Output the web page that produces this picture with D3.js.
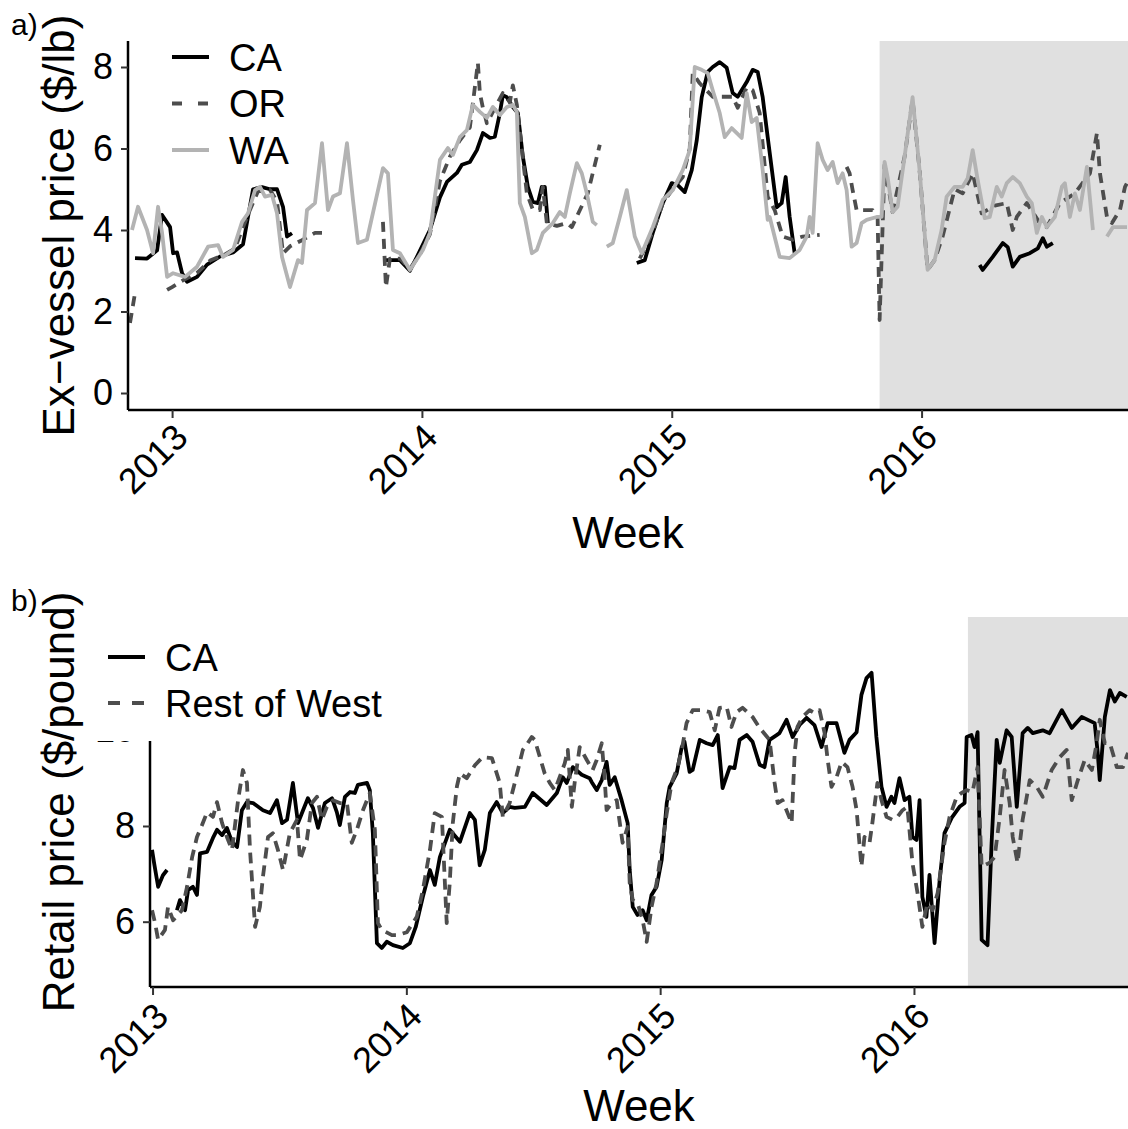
<!DOCTYPE html>
<html>
<head>
<meta charset="utf-8">
<script src="https://cdn.jsdelivr.net/npm/d3@7"></script>
<style>
body { margin: 0; background: #fff; }
svg { display: block; font-family: "Liberation Sans", Arial, sans-serif; }
</style>
</head>
<body>
<svg id="chart"></svg>
<script>
// [decimal year, price]; null marks a gap in the series

// a) ex-vessel price, $/lb
let exCA = [
  [2012.852,3.31],[2012.900,3.30],[2012.940,3.50],[2012.960,4.37],[2012.992,4.07],[2013.004,3.43],
  [2013.020,3.45],[2013.040,2.94],[2013.060,2.73],[2013.100,2.85],[2013.140,3.15],[2013.192,3.35],
  [2013.244,3.45],[2013.284,3.65],[2013.324,5.00],[2013.360,5.05],[2013.392,5.00],[2013.420,5.00],
  [2013.444,4.57],[2013.460,3.84],[2013.480,3.92],[2013.60,null],
  [2013.852,3.26],[2013.912,3.26],[2013.952,3.00],[2013.980,3.34],[2014.032,4.00],[2014.072,4.80],
  [2014.100,5.18],[2014.140,5.40],[2014.160,5.60],[2014.192,5.67],[2014.220,5.96],[2014.244,6.38],
  [2014.272,6.26],[2014.292,6.29],[2014.312,6.87],[2014.324,7.31],[2014.340,7.26],[2014.364,7.02],
  [2014.384,6.87],[2014.404,5.80],[2014.424,5.06],[2014.444,4.69],[2014.464,4.66],[2014.480,5.06],
  [2014.492,5.06],[2014.504,4.17],[2014.60,null],
  [2014.860,3.19],[2014.892,3.26],[2014.924,3.93],[2014.964,4.66],[2015.000,5.15],[2015.024,5.10],
  [2015.052,4.93],[2015.080,5.47],[2015.100,6.20],[2015.120,7.26],[2015.144,7.88],[2015.164,8.00],
  [2015.192,8.12],[2015.220,7.98],[2015.244,7.36],[2015.264,7.27],[2015.300,7.63],[2015.324,7.93],
  [2015.344,7.88],[2015.364,7.26],[2015.384,6.28],[2015.420,4.56],[2015.440,4.66],[2015.456,5.30],
  [2015.472,4.32],[2015.492,3.43],[2015.60,null],
  [2016.232,3.14],[2016.244,3.02],[2016.284,3.34],[2016.324,3.68],[2016.344,3.58],[2016.364,3.10],
  [2016.392,3.34],[2016.432,3.43],[2016.464,3.55],[2016.484,3.80],[2016.500,3.59],[2016.524,3.68]
]

let exOR = [
  [2012.832,1.72],[2012.852,2.45],[2012.90,null],
  [2012.980,2.53],[2013.000,2.60],[2013.040,2.75],[2013.100,2.95],[2013.152,3.25],[2013.212,3.40],
  [2013.252,3.55],[2013.284,4.07],[2013.312,4.50],[2013.344,4.95],[2013.392,4.98],[2013.420,4.70],
  [2013.444,3.43],[2013.472,3.60],[2013.520,3.75],[2013.572,3.93],[2013.600,3.93],[2013.70,null],
  [2013.844,4.20],[2013.856,2.60],[2013.872,3.30],[2013.912,3.30],[2013.952,3.05],[2013.992,3.40],
  [2014.032,3.90],[2014.072,5.20],[2014.112,5.80],[2014.152,6.20],[2014.192,6.52],[2014.224,8.10],
  [2014.232,7.36],[2014.244,7.00],[2014.260,6.62],[2014.284,6.90],[2014.324,7.36],[2014.352,7.14],
  [2014.364,7.55],[2014.380,7.07],[2014.420,4.90],[2014.444,4.50],[2014.472,4.49],[2014.484,5.06],
  [2014.500,4.17],[2014.540,4.10],[2014.580,4.17],[2014.600,4.07],[2014.664,4.90],[2014.688,5.50],
  [2014.712,6.09],[2014.80,null],
  [2014.872,3.30],[2014.924,3.95],[2014.964,4.66],[2015.004,5.00],[2015.044,5.30],[2015.072,6.00],
  [2015.084,7.85],[2015.112,7.60],[2015.164,7.27],[2015.204,7.27],[2015.244,7.27],[2015.264,7.00],
  [2015.300,7.50],[2015.324,7.43],[2015.352,6.87],[2015.384,4.82],[2015.412,4.49],[2015.444,3.84],
  [2015.484,3.76],[2015.524,3.84],[2015.592,3.88],[2015.65,null],
  [2015.700,5.55],[2015.712,5.39],[2015.724,4.98],[2015.740,4.49],[2015.764,4.49],[2015.804,4.49],
  [2015.824,4.32],[2015.832,1.79],[2015.852,5.60],[2015.884,4.44],[2015.932,5.80],[2015.964,7.20],
  [2015.992,5.47],[2016.024,3.02],[2016.052,3.26],[2016.084,3.84],[2016.132,5.00],[2016.164,4.90],
  [2016.204,5.39],[2016.240,4.41],[2016.292,4.60],[2016.340,4.66],[2016.364,4.00],[2016.380,4.32],
  [2016.420,4.66],[2016.472,4.17],[2016.500,4.07],[2016.552,4.66],[2016.612,4.90],[2016.672,5.39],
  [2016.700,6.38],[2016.712,5.39],[2016.740,4.32],[2016.760,4.17],[2016.792,4.49],[2016.812,5.06],
  [2016.824,5.20]
]

let exWA = [
  [2012.840,4.00],[2012.864,4.57],[2012.900,4.00],[2012.924,3.43],[2012.944,4.57],[2012.960,3.93],
  [2012.980,2.85],[2013.004,2.94],[2013.052,2.85],[2013.100,3.10],[2013.144,3.59],[2013.184,3.63],
  [2013.204,3.34],[2013.244,3.51],[2013.280,4.20],[2013.304,4.41],[2013.332,4.98],[2013.352,5.06],
  [2013.372,4.82],[2013.400,4.86],[2013.420,4.41],[2013.440,3.34],[2013.472,2.60],[2013.504,3.26],
  [2013.520,3.19],[2013.540,4.49],[2013.572,4.66],[2013.600,6.13],[2013.624,4.49],[2013.644,4.82],
  [2013.672,4.90],[2013.700,6.13],[2013.724,4.74],[2013.744,3.68],[2013.780,3.76],[2013.844,5.52],
  [2013.864,5.39],[2013.884,3.51],[2013.912,3.43],[2013.952,3.02],[2014.004,3.51],[2014.032,3.93],
  [2014.072,5.72],[2014.104,6.01],[2014.124,5.84],[2014.152,6.28],[2014.180,6.45],[2014.204,7.07],
  [2014.232,6.90],[2014.260,6.75],[2014.284,7.02],[2014.312,6.82],[2014.340,7.02],[2014.364,7.07],
  [2014.380,6.90],[2014.392,4.66],[2014.412,4.32],[2014.440,3.43],[2014.460,3.51],[2014.484,3.93],
  [2014.524,4.17],[2014.552,4.44],[2014.572,4.32],[2014.592,4.90],[2014.620,5.64],[2014.640,5.39],
  [2014.660,4.90],[2014.684,4.20],[2014.700,4.12],[2014.72,null],
  [2014.740,3.59],[2014.764,3.68],[2014.792,4.32],[2014.820,4.98],[2014.852,3.84],[2014.880,3.43],
  [2014.924,4.07],[2014.964,4.74],[2015.004,4.98],[2015.044,5.47],[2015.072,5.96],[2015.092,8.00],
  [2015.120,7.93],[2015.144,7.85],[2015.164,7.43],[2015.192,6.87],[2015.212,6.28],[2015.240,6.50],
  [2015.280,6.26],[2015.300,7.36],[2015.320,6.65],[2015.340,6.75],[2015.364,5.47],[2015.384,4.25],
  [2015.392,4.32],[2015.432,3.34],[2015.472,3.31],[2015.512,3.51],[2015.540,3.84],[2015.552,4.32],
  [2015.564,3.93],[2015.584,6.13],[2015.604,5.72],[2015.624,5.47],[2015.644,5.67],[2015.664,5.15],
  [2015.684,5.39],[2015.700,4.98],[2015.720,3.59],[2015.740,3.68],[2015.760,4.17],[2015.780,4.25],
  [2015.820,4.32],[2015.840,4.32],[2015.852,5.67],[2015.864,5.30],[2015.884,4.44],[2015.904,4.57],
  [2015.932,5.80],[2015.964,7.26],[2015.992,5.47],[2016.024,3.02],[2016.052,3.26],[2016.080,4.00],
  [2016.100,4.82],[2016.132,5.06],[2016.164,5.06],[2016.184,5.27],[2016.204,5.96],[2016.224,5.23],
  [2016.252,4.29],[2016.272,4.32],[2016.300,5.06],[2016.320,4.82],[2016.340,5.15],[2016.364,5.30],
  [2016.392,5.15],[2016.420,4.82],[2016.440,4.66],[2016.460,3.93],[2016.480,4.32],[2016.500,4.07],
  [2016.532,4.32],[2016.560,5.06],[2016.572,5.15],[2016.592,4.32],[2016.612,4.90],[2016.632,4.49],
  [2016.660,5.55],[2016.684,4.00],[2016.71,null],
  [2016.740,3.84],[2016.764,4.07],[2016.820,4.07]
]

// b) retail price, $/pound
let retCA = [
  [2012.998,7.50],[2013.006,7.23],[2013.022,6.73],[2013.041,6.97],[2013.057,7.08],[2013.07,null],
  [2013.096,6.24],[2013.108,6.45],[2013.128,6.24],[2013.140,6.66],[2013.159,6.73],[2013.175,6.56],
  [2013.187,7.43],[2013.215,7.46],[2013.238,7.75],[2013.254,7.92],[2013.274,7.81],[2013.293,7.96],
  [2013.313,7.67],[2013.333,7.56],[2013.352,8.33],[2013.372,8.50],[2013.396,8.48],[2013.435,8.33],
  [2013.463,8.27],[2013.490,8.54],[2013.510,8.06],[2013.530,8.13],[2013.553,8.90],[2013.573,8.06],
  [2013.593,8.33],[2013.612,8.58],[2013.632,8.38],[2013.652,7.96],[2013.679,8.48],[2013.707,8.58],
  [2013.726,8.29],[2013.738,8.02],[2013.758,8.61],[2013.778,8.71],[2013.797,8.69],[2013.809,8.86],
  [2013.845,8.90],[2013.856,8.75],[2013.868,7.85],[2013.884,5.55],[2013.903,5.45],[2013.923,5.58],
  [2013.947,5.51],[2013.986,5.45],[2014.014,5.55],[2014.037,5.89],[2014.065,6.52],[2014.093,7.08],
  [2014.112,6.77],[2014.132,7.35],[2014.171,7.92],[2014.211,7.67],[2014.250,8.27],[2014.270,8.13],
  [2014.289,7.18],[2014.309,7.50],[2014.329,8.27],[2014.356,8.50],[2014.380,8.27],[2014.407,8.40],
  [2014.427,8.38],[2014.467,8.40],[2014.498,8.69],[2014.553,8.44],[2014.593,8.69],[2014.616,9.02],
  [2014.632,8.90],[2014.656,9.23],[2014.691,9.07],[2014.722,9.00],[2014.730,8.92],[2014.750,8.75],
  [2014.770,8.96],[2014.789,9.34],[2014.801,8.86],[2014.821,9.02],[2014.848,8.54],[2014.872,8.06],
  [2014.880,7.08],[2014.892,6.31],[2014.911,6.14],[2014.931,6.24],[2014.947,6.03],[2014.966,6.56],
  [2014.986,6.73],[2015.006,7.29],[2015.026,8.48],[2015.037,8.81],[2015.065,9.10],[2015.085,9.65],
  [2015.096,9.76],[2015.116,9.13],[2015.128,9.17],[2015.156,9.80],[2015.183,9.73],[2015.207,9.69],
  [2015.227,9.90],[2015.246,8.79],[2015.274,9.23],[2015.293,9.21],[2015.313,9.80],[2015.341,9.90],
  [2015.364,9.76],[2015.392,9.28],[2015.411,9.23],[2015.431,9.80],[2015.459,9.90],[2015.470,9.94],
  [2015.498,10.22],[2015.522,9.86],[2015.549,10.11],[2015.577,10.26],[2015.608,10.11],[2015.636,9.65],
  [2015.660,10.15],[2015.695,10.15],[2015.726,9.53],[2015.746,9.80],[2015.774,9.96],[2015.793,10.74],
  [2015.813,11.09],[2015.833,11.20],[2015.852,9.86],[2015.872,8.82],[2015.892,8.40],[2015.911,8.61],
  [2015.923,8.48],[2015.943,9.00],[2015.963,8.54],[2015.982,8.61],[2015.994,7.77],[2016.010,7.71],
  [2016.022,8.54],[2016.033,6.52],[2016.049,6.10],[2016.061,6.98],[2016.081,5.55],[2016.100,6.81],
  [2016.120,7.85],[2016.148,8.17],[2016.179,8.40],[2016.199,8.48],[2016.207,9.86],[2016.226,9.90],
  [2016.238,9.65],[2016.250,9.96],[2016.266,5.62],[2016.289,5.51],[2016.305,7.64],[2016.325,9.80],
  [2016.337,9.32],[2016.364,10.00],[2016.384,9.86],[2016.404,8.40],[2016.427,9.94],[2016.447,10.05],
  [2016.467,9.94],[2016.506,10.00],[2016.533,9.94],[2016.581,10.42],[2016.620,10.05],[2016.659,10.28],
  [2016.710,10.15],[2016.722,9.53],[2016.730,8.96],[2016.750,10.28],[2016.770,10.84],[2016.789,10.60],
  [2016.809,10.78],[2016.836,10.70]
]

let retRoW = [
  [2012.998,6.24],[2013.010,5.97],[2013.022,5.62],[2013.049,5.83],[2013.061,6.31],[2013.081,6.03],
  [2013.116,6.24],[2013.136,6.73],[2013.156,7.35],[2013.175,7.77],[2013.195,8.02],[2013.215,8.29],
  [2013.238,8.19],[2013.254,8.50],[2013.274,8.06],[2013.293,7.77],[2013.313,7.50],[2013.337,8.54],
  [2013.356,9.17],[2013.372,8.90],[2013.384,7.50],[2013.404,5.89],[2013.423,6.31],[2013.435,6.94],
  [2013.455,7.77],[2013.474,7.85],[2013.494,7.50],[2013.514,7.08],[2013.541,7.85],[2013.569,8.13],
  [2013.581,7.29],[2013.608,7.71],[2013.628,8.48],[2013.648,8.61],[2013.667,8.13],[2013.687,8.40],
  [2013.711,8.54],[2013.738,8.48],[2013.766,8.48],[2013.785,7.65],[2013.805,7.92],[2013.829,8.33],
  [2013.856,8.69],[2013.876,7.92],[2013.888,5.97],[2013.903,5.83],[2013.943,5.72],[2013.966,5.72],
  [2014.002,5.78],[2014.041,6.10],[2014.065,6.66],[2014.093,7.50],[2014.112,8.27],[2014.140,8.19],
  [2014.159,5.97],[2014.171,6.81],[2014.183,8.06],[2014.199,8.82],[2014.211,9.10],[2014.238,9.00],
  [2014.270,9.27],[2014.301,9.44],[2014.337,9.42],[2014.368,8.90],[2014.380,8.19],[2014.407,8.48],
  [2014.427,8.90],[2014.459,9.59],[2014.478,9.73],[2014.494,9.86],[2014.506,9.80],[2014.526,9.44],
  [2014.545,9.10],[2014.565,8.90],[2014.585,8.75],[2014.604,9.02],[2014.624,9.31],[2014.636,9.59],
  [2014.652,8.40],[2014.663,8.90],[2014.683,9.65],[2014.711,9.38],[2014.734,9.17],[2014.750,9.38],
  [2014.770,9.73],[2014.781,9.02],[2014.789,8.33],[2014.809,8.48],[2014.829,8.54],[2014.841,8.06],
  [2014.852,7.65],[2014.872,7.98],[2014.880,6.81],[2014.892,6.45],[2014.911,6.39],[2014.931,6.03],
  [2014.947,5.58],[2014.966,6.31],[2014.986,6.81],[2015.010,7.65],[2015.026,8.27],[2015.045,8.90],
  [2015.069,9.23],[2015.085,9.59],[2015.104,10.15],[2015.128,10.42],[2015.163,10.42],[2015.195,10.38],
  [2015.215,10.00],[2015.234,10.47],[2015.262,10.49],[2015.281,10.07],[2015.301,10.38],[2015.325,10.47],
  [2015.364,10.28],[2015.392,10.05],[2015.431,9.80],[2015.451,8.90],[2015.463,8.48],[2015.482,8.54],
  [2015.518,8.06],[2015.530,9.53],[2015.541,10.07],[2015.561,10.28],[2015.589,10.42],[2015.608,10.36],
  [2015.628,10.42],[2015.648,9.94],[2015.660,9.38],[2015.675,8.82],[2015.695,9.02],[2015.715,9.34],
  [2015.738,9.23],[2015.758,8.82],[2015.774,8.33],[2015.785,7.65],[2015.793,7.15],[2015.805,7.77],
  [2015.825,7.65],[2015.836,8.06],[2015.856,8.90],[2015.872,8.54],[2015.892,8.19],[2015.915,8.13],
  [2015.935,8.19],[2015.955,8.33],[2015.974,8.40],[2015.994,7.23],[2016.014,6.60],[2016.033,5.89],
  [2016.053,6.39],[2016.073,6.24],[2016.093,6.60],[2016.120,7.65],[2016.140,8.19],[2016.168,8.61],
  [2016.187,8.69],[2016.207,8.75],[2016.230,8.71],[2016.250,9.23],[2016.266,7.15],[2016.297,7.23],
  [2016.317,7.35],[2016.337,8.19],[2016.356,9.17],[2016.376,8.48],[2016.388,7.77],[2016.407,7.23],
  [2016.427,8.13],[2016.455,8.96],[2016.482,8.82],[2016.506,8.61],[2016.541,9.17],[2016.573,9.44],
  [2016.600,9.59],[2016.620,8.54],[2016.644,8.96],[2016.671,9.38],[2016.699,9.17],[2016.718,9.73],
  [2016.730,10.22],[2016.750,9.73],[2016.770,9.73],[2016.797,9.23],[2016.821,9.23],[2016.841,9.53]
]

let exTicks = [0, 2, 4, 6, 8]
let retTicks = [6, 8, 10]
let yearTicks = [2013, 2014, 2015, 2016]
let exLegend = ['CA', 'OR', 'WA']
let retLegend = ['CA', 'Rest of West']

let width = 1128
let height = 1129
let font = '"Liberation Sans", Arial, sans-serif'

let svg = d3.select('#chart').attr('width', width).attr('height', height)

let toDate = (yr) => {
  let y = Math.floor(yr)
  let start = Date.UTC(y, 0, 1)
  let end = Date.UTC(y + 1, 0, 1)
  return new Date(start + (yr - y) * (end - start))
}

let drawPanel = (p) => {
  let xScale = d3.scaleUtc()
    .domain([toDate(p.xDomain[0]), toDate(p.xDomain[1])])
    .range([p.left, p.right])
  let yScale = d3.scaleLinear()
    .domain(p.yDomain)
    .range([p.bottom, p.top])

  let g = svg.append('g')

  svg.append('clipPath').attr('id', p.id + '-clip')
    .append('rect')
    .attr('x', p.left).attr('y', p.top)
    .attr('width', p.right - p.left).attr('height', p.bottom - p.top)

  // projection period
  g.append('rect')
    .attr('x', xScale(toDate(p.shadeFrom)))
    .attr('y', p.top)
    .attr('width', p.right - xScale(toDate(p.shadeFrom)))
    .attr('height', p.bottom - p.top)
    .attr('fill', '#e0e0e0')

  let line = d3.line()
    .defined((d) => d[1] != null)
    .x((d) => xScale(toDate(d[0])))
    .y((d) => yScale(d[1]))

  let lines = g.append('g').attr('clip-path', 'url(#' + p.id + '-clip)')
  p.series.forEach((s) => {
    lines.append('path')
      .attr('d', line(s.data))
      .attr('fill', 'none')
      .attr('stroke', s.color)
      .attr('stroke-width', 3.8)
      .attr('stroke-linejoin', 'round')
      .attr('stroke-dasharray', s.dash || null)
  })

  // axes
  let xAxis = d3.axisBottom(xScale)
    .tickValues(yearTicks.map((y) => toDate(y)))
    .tickFormat(d3.utcFormat('%Y'))
    .tickSize(8)
    .tickPadding(0)
  let yAxis = d3.axisLeft(yScale)
    .tickValues(p.yTicks)
    .tickSize(7)
    .tickPadding(8)

  let xg = g.append('g')
    .attr('transform', 'translate(0,' + p.bottom + ')')
    .call(xAxis)
  xg.select('.domain').attr('stroke', '#000').attr('stroke-width', 2.5)
    .attr('d', 'M' + p.left + ',0H' + p.right)
  xg.selectAll('.tick line').attr('stroke', '#333').attr('stroke-width', 2)
  xg.selectAll('.tick text')
    .attr('font-family', font)
    .attr('font-size', 36)
    .attr('fill', '#000')
    .attr('text-anchor', 'end')
    .attr('y', 0)
    .attr('dy', '0.72em')
    .attr('transform', 'translate(-1,' + p.xLabelDrop + ') rotate(-45)')

  let yg = g.append('g')
    .attr('transform', 'translate(' + p.left + ',0)')
    .call(yAxis)
  yg.select('.domain').attr('stroke', '#000').attr('stroke-width', 2.5)
    .attr('d', 'M0,' + p.top + 'V' + p.bottom)
  yg.selectAll('.tick line').attr('stroke', '#333').attr('stroke-width', 2)
  yg.selectAll('.tick text')
    .attr('font-family', font)
    .attr('font-size', 36)
    .attr('fill', '#000')

  // titles
  svg.append('text')
    .attr('x', (p.left + p.right) / 2)
    .attr('y', p.weekY)
    .attr('text-anchor', 'middle')
    .attr('font-family', font)
    .attr('font-size', 44)
    .text('Week')

  svg.append('text')
    .attr('transform', 'translate(74,' + (p.top + p.bottom) / 2 + ') rotate(-90)')
    .attr('text-anchor', 'middle')
    .attr('font-family', font)
    .attr('font-size', 44)
    .text(p.yTitle)

  svg.append('text')
    .attr('x', 11)
    .attr('y', p.tagY)
    .attr('font-family', font)
    .attr('font-size', 30)
    .text(p.tag)

  // legend
  let lg = svg.append('g')
  if (p.legendBox) {
    lg.append('rect')
      .attr('x', p.legendBox[0]).attr('y', p.legendBox[1])
      .attr('width', p.legendBox[2]).attr('height', p.legendBox[3])
      .attr('fill', '#fff')
  }
  p.series.forEach((s, i) => {
    let ly = p.legendY + i * p.legendStep
    lg.append('line')
      .attr('x1', p.legendX).attr('x2', p.legendX + 37)
      .attr('y1', ly).attr('y2', ly)
      .attr('stroke', s.color)
      .attr('stroke-width', 3.8)
      .attr('stroke-dasharray', s.legendDash || null)
    lg.append('text')
      .attr('x', p.legendX + 57)
      .attr('y', ly)
      .attr('dy', '0.36em')
      .attr('font-family', font)
      .attr('font-size', 38)
      .text(p.labels[i])
  })
}

drawPanel({
  id: 'a', tag: 'a)', tagY: 35,
  left: 128, right: 1128, top: 41, bottom: 410,
  xDomain: [2012.824, 2016.824], yDomain: [-0.417, 8.638],
  yTicks: exTicks, shadeFrom: 2015.832,
  xLabelDrop: 11, weekY: 548,
  yTitle: 'Ex\u2212vessel price ($/lb)',
  legendX: 172, legendY: 57, legendStep: 46.5, labels: exLegend,
  series: [
    { data: exCA, color: '#000000' },
    { data: exOR, color: '#4d4d4d', dash: '10,7', legendDash: '10,16' },
    { data: exWA, color: '#b3b3b3' }
  ]
})

drawPanel({
  id: 'b', tag: 'b)', tagY: 611,
  left: 150, right: 1128, top: 617, bottom: 987,
  xDomain: [2012.990, 2016.841], yDomain: [4.635, 12.368],
  yTicks: retTicks, shadeFrom: 2016.212,
  xLabelDrop: 13, weekY: 1121,
  yTitle: 'Retail price ($/pound)',
  legendX: 108, legendY: 657, legendStep: 46, labels: retLegend,
  legendBox: [92, 612, 313, 129],
  series: [
    { data: retCA, color: '#000000' },
    { data: retRoW, color: '#4d4d4d', dash: '11,7', legendDash: '12,12' }
  ]
})
</script>
</body>
</html>
